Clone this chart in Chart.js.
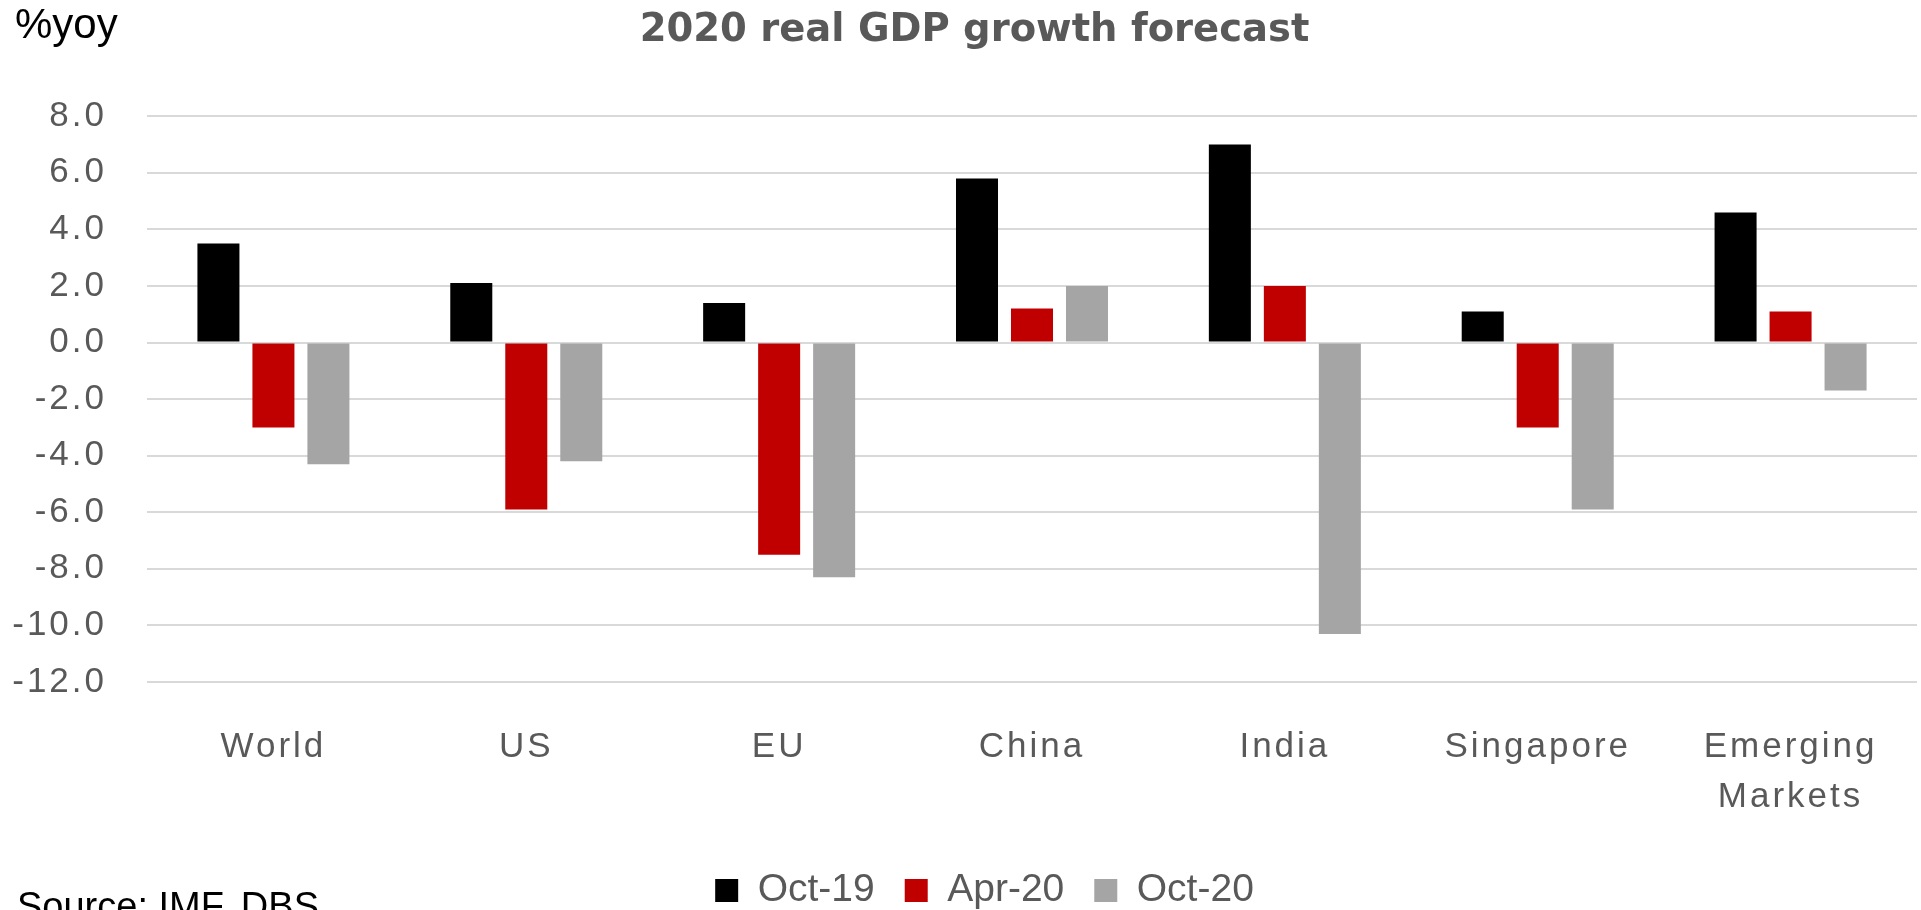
<!DOCTYPE html>
<html>
<head>
<meta charset="utf-8">
<title>2020 real GDP growth forecast</title>
<script src="https://cdn.jsdelivr.net/npm/chart.js@4"></script>
<style>
    html, body { margin: 0; padding: 0; background: #ffffff; }
    #wrap { width: 1921px; height: 910px; }
</style>
</head>
<body>
<div id="wrap"><canvas id="gdpChart" width="1921" height="910"></canvas></div>
<script>
// chart values
const categories = ['World', 'US', 'EU', 'China', 'India', 'Singapore', ['Emerging', 'Markets']];
const oct19 = [3.5, 2.1, 1.4, 5.8, 7.0, 1.1, 4.6];
const apr20 = [-3.0, -5.9, -7.5, 1.2, 2.0, -3.0, 1.1];
const oct20 = [-4.3, -4.2, -8.3, 2.0, -10.3, -5.9, -1.7];
const seriesLabels = ['Oct-19', 'Apr-20', 'Oct-20'];
const yTicks = { min: -12, max: 8, step: 2 };

const GREY_TEXT = '#595959';

/**
 * Small layout helpers:
 *  - title and legend are nudged right a little, like in the original
 *  - tick labels are drawn on top (ticks.z = 1) with some letter spacing
 *  - the unit label and the source line are drawn at the end
 */
const extras = {
    id: 'extras',
    afterLayout(chart) {
        const shift = (box, dx) => {
            if (!box) return;
            box.left += dx;
            box.right += dx;
        };
        shift(chart.titleBlock, 12);
        shift(chart.legend, 22);
    },
    afterDatasetsDraw(chart) {
        chart.ctx.letterSpacing = '3px';
    },
    afterDraw(chart) {
        const ctx = chart.ctx;
        ctx.letterSpacing = '0px';
        ctx.save();
        ctx.fillStyle = '#000000';
        ctx.textAlign = 'left';
        ctx.textBaseline = 'alphabetic';
        ctx.font = '42px "Liberation Sans", Arial, sans-serif';
        ctx.fillText('%yoy', 15, 38);
        ctx.font = '38px "Liberation Sans", Arial, sans-serif';
        ctx.fillText('Source: IMF, DBS', 17, 919);
        ctx.restore();
    }
};

function createGroupedBarChart(elementId) {
    const ctx = document.getElementById(elementId).getContext('2d');

    const chartData = {
        labels: categories,
        datasets: [
            { label: seriesLabels[0], data: oct19, backgroundColor: '#000000' },
            { label: seriesLabels[1], data: apr20, backgroundColor: '#c00000' },
            { label: seriesLabels[2], data: oct20, backgroundColor: '#a5a5a5' }
        ].map(ds => Object.assign(ds, {
            borderWidth: 0,
            categoryPercentage: 0.6525,
            barPercentage: 0.764
        }))
    };

    new Chart(ctx, {
        type: 'bar',
        data: chartData,
        plugins: [extras],
        options: {
            responsive: false,
            animation: false,
            devicePixelRatio: 1,
            layout: {
                padding: { left: 8, right: 4, top: 0, bottom: -10 }
            },
            scales: {
                x: {
                    grid: { display: false },
                    border: { display: false },
                    ticks: {
                        z: 1,
                        color: GREY_TEXT,
                        padding: 32,
                        maxRotation: 0,
                        autoSkip: false,
                        font: { family: '"Liberation Sans", Arial, sans-serif', size: 35, lineHeight: 1.43 }
                    },
                    afterFit: scale => { scale.height = 159; }
                },
                y: {
                    min: yTicks.min,
                    max: yTicks.max,
                    grid: {
                        color: '#d9d9d9',
                        lineWidth: 2,
                        drawTicks: false
                    },
                    border: { display: false },
                    ticks: {
                        z: 1,
                        stepSize: yTicks.step,
                        color: GREY_TEXT,
                        padding: 40,
                        font: { family: '"Liberation Sans", Arial, sans-serif', size: 35 },
                        callback: value => value.toFixed(1)
                    },
                    afterFit: scale => { scale.width = 139; }
                }
            },
            plugins: {
                title: {
                    display: true,
                    text: '2020 real GDP growth forecast',
                    color: GREY_TEXT,
                    font: { family: '"DejaVu Sans", sans-serif', size: 38.5, weight: 'bold' },
                    padding: { top: 8, bottom: 62 }
                },
                legend: {
                    position: 'bottom',
                    labels: {
                        color: GREY_TEXT,
                        boxWidth: 23,
                        boxHeight: 23,
                        padding: 30,
                        font: { family: '"Liberation Sans", Arial, sans-serif', size: 39 }
                    }
                },
                tooltip: { enabled: false }
            }
        }
    });
}

createGroupedBarChart('gdpChart');
</script>
</body>
</html>
